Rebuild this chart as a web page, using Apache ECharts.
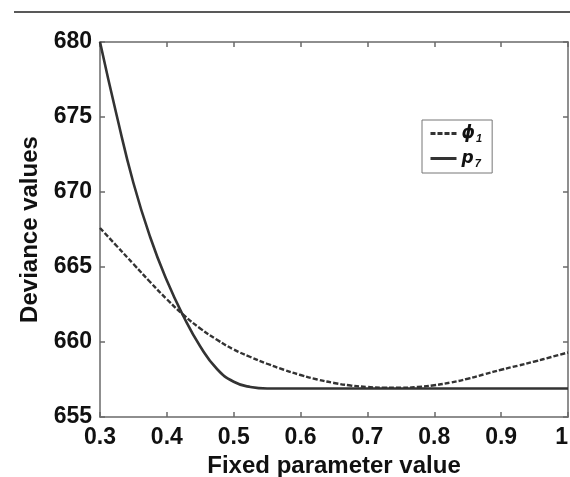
<!DOCTYPE html>
<html>
<head>
<meta charset="utf-8">
<script src="https://cdn.jsdelivr.net/npm/echarts@6/dist/echarts.min.js"></script>
<style>
  html, body { margin: 0; padding: 0; background: #fff; }
  #chart { width: 570px; height: 477px; }
</style>
</head>
<body>
<div id="chart"></div>
<script>
// fixed parameter values (x)
const xValues = [0.3, 0.325, 0.35, 0.375, 0.4, 0.425, 0.45, 0.475, 0.5, 0.525, 0.55, 0.575, 0.6, 0.625, 0.65, 0.675,
                 0.7, 0.725, 0.75, 0.775, 0.8, 0.825, 0.85, 0.875, 0.9, 0.925, 0.95, 0.975, 1.0];
// deviance when phi1 is fixed (dashed)
const phi1Values = [667.6, 666.4, 665.2, 664.0, 662.85, 661.8, 660.9, 660.15, 659.5, 659.0, 658.55, 658.15, 657.8, 657.5, 657.27, 657.1,
                    657.0, 656.95, 656.95, 657.0, 657.12, 657.3, 657.55, 657.85, 658.15, 658.42, 658.7, 659.0, 659.3];
// deviance when p7 is fixed (solid)
const p7Values = [680.0, 675.1, 670.6, 667.0, 664.1, 661.7, 659.7, 658.2, 657.35, 657.0, 656.9, 656.9, 656.9, 656.9, 656.9, 656.9,
                  656.9, 656.9, 656.9, 656.9, 656.9, 656.9, 656.9, 656.9, 656.9, 656.9, 656.9, 656.9, 656.9];
const xTickLabels = ['0.3', '0.4', '0.5', '0.6', '0.7', '0.8', '0.9', '1'];
const yTickLabels = ['655', '660', '665', '670', '675', '680'];

const seriesNames = ['phi1', 'p7'];
const legendText = { phi1: '{g|ϕ}{s|1}', p7: '{g|p}{s|7}' };

const myChart = echarts.init(document.getElementById('chart'));

const axisColor = '#6a6a6a';
const labelFont = { color: '#111', fontSize: 23, fontWeight: 'bold', fontFamily: 'Liberation Sans, Arial' };
const titleFont = { color: '#111', fontSize: 24, fontWeight: 'bold', fontFamily: 'Liberation Sans, Arial' };

const boxAxis = {
  axisLine: { show: true, lineStyle: { color: axisColor, width: 1.5 } },
  axisTick: { show: true, inside: true, length: 5, lineStyle: { color: axisColor, width: 1.5 } },
  splitLine: { show: false }
};

const option = {
  animation: false,
  backgroundColor: '#fff',
  grid: { left: 100, top: 42, right: 2, bottom: 60, containLabel: false, outerBoundsMode: 'none' },
  graphic: [
    { type: 'line', shape: { x1: 14, y1: 12, x2: 570, y2: 12 }, style: { stroke: '#222', lineWidth: 1.5 } }
  ],
  legend: {
    orient: 'vertical',
    left: 422,
    top: 120,
    data: seriesNames,
    backgroundColor: '#fff',
    borderColor: '#777',
    borderWidth: 1,
    borderRadius: 0,
    padding: [5, 10, 4, 7],
    itemGap: 6,
    itemWidth: 26,
    itemHeight: 12,
    itemStyle: { opacity: 0 },
    lineStyle: { width: 3 },
    formatter: name => legendText[name],
    textStyle: {
      rich: {
        g: { fontSize: 17, fontWeight: 'bold', fontStyle: 'italic', color: '#111', fontFamily: 'DejaVu Sans, Liberation Sans' },
        s: { fontSize: 11, fontWeight: 'bold', fontStyle: 'italic', color: '#111', padding: [10, 0, 0, 1], fontFamily: 'Liberation Sans, Arial' }
      }
    }
  },
  xAxis: [
    Object.assign({}, boxAxis, {
      type: 'value', position: 'bottom', min: 0.3, max: 1.0, interval: 0.1,
      name: 'Fixed parameter value', nameLocation: 'middle', nameGap: 34,
      nameTextStyle: titleFont,
      axisLabel: Object.assign({}, labelFont, {
        margin: 9, alignMaxLabel: 'right',
        formatter: v => xTickLabels[Math.round((v - 0.3) * 10)]
      })
    }),
    Object.assign({}, boxAxis, {
      type: 'value', position: 'top', min: 0.3, max: 1.0, interval: 0.1,
      axisLabel: { show: false }
    })
  ],
  yAxis: [
    Object.assign({}, boxAxis, {
      type: 'value', position: 'left', min: 655, max: 680, interval: 5,
      name: 'Deviance values', nameLocation: 'middle', nameGap: 58, nameRotate: 90,
      nameTextStyle: titleFont,
      axisLabel: Object.assign({}, labelFont, {
        margin: 8,
        formatter: v => yTickLabels[Math.round((v - 655) / 5)]
      })
    }),
    Object.assign({}, boxAxis, {
      type: 'value', position: 'right', min: 655, max: 680, interval: 5,
      axisLabel: { show: false }
    })
  ],
  series: [
    {
      name: 'phi1', type: 'line', smooth: true, symbol: 'none',
      data: xValues.map((x, i) => [x, phi1Values[i]]),
      lineStyle: { color: '#333', width: 2.4, type: [5, 2] },
      itemStyle: { color: '#333' }
    },
    {
      name: 'p7', type: 'line', smooth: true, symbol: 'none',
      data: xValues.map((x, i) => [x, p7Values[i]]),
      lineStyle: { color: '#333', width: 2.6 },
      itemStyle: { color: '#333' }
    }
  ]
};

myChart.setOption(option);
window.addEventListener('resize', () => {
  myChart.resize();
});
</script>
</body>
</html>
